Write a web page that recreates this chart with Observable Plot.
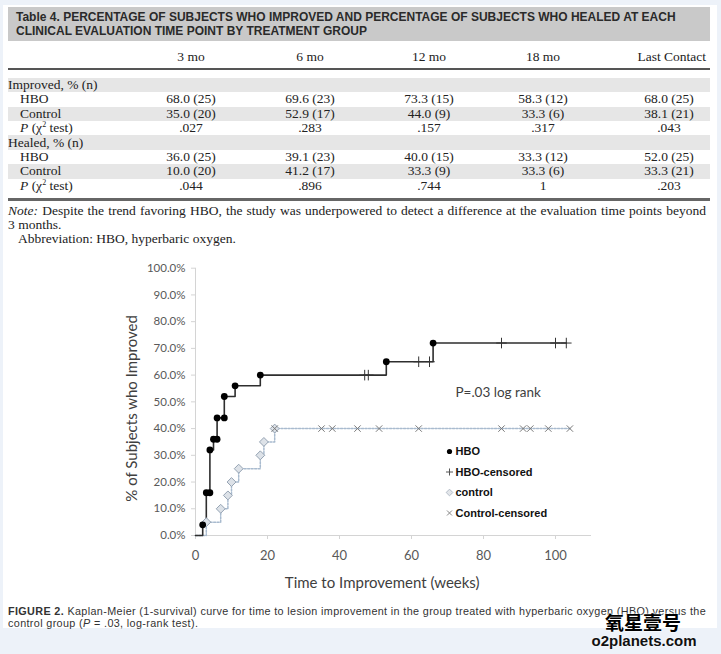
<!DOCTYPE html>
<html><head><meta charset="utf-8">
<script src="https://cdn.jsdelivr.net/npm/d3@7"></script>
<script src="https://cdn.jsdelivr.net/npm/@observablehq/plot@0.6"></script>
<style>
html,body{margin:0;padding:0;}
body{width:721px;height:654px;background:#edf2f9;position:relative;overflow:hidden;}
#page{position:absolute;left:3px;top:5px;width:714px;height:623px;background:#fff;}
.a{position:absolute;white-space:nowrap;line-height:1;}
.serif{font-family:"Liberation Serif","Times New Roman",serif;font-size:13.5px;color:#222;}
.banner{font-family:"Liberation Sans",Arial,sans-serif;font-weight:bold;font-size:12px;color:#2a2a2a;}
.cap{font-family:"Liberation Sans",Arial,sans-serif;font-size:10.8px;color:#333;}
#chart{position:absolute;left:0;top:250px;}
</style></head><body>
<div id="page"></div>
<div id="root"></div>
<div id="chart"></div>
<script>
// ---------- table data ----------
const tableTitle = ["Table 4. PERCENTAGE OF SUBJECTS WHO IMPROVED AND PERCENTAGE OF SUBJECTS WHO HEALED AT EACH",
                    "CLINICAL EVALUATION TIME POINT BY TREATMENT GROUP"];
const timePoints = ["3 mo", "6 mo", "12 mo", "18 mo", "Last Contact"];
const improvedHBO = ["68.0 (25)", "69.6 (23)", "73.3 (15)", "58.3 (12)", "68.0 (25)"];
const improvedControl = ["35.0 (20)", "52.9 (17)", "44.0 (9)", "33.3 (6)", "38.1 (21)"];
const improvedP = [".027", ".283", ".157", ".317", ".043"];
const healedHBO = ["36.0 (25)", "39.1 (23)", "40.0 (15)", "33.3 (12)", "52.0 (25)"];
const healedControl = ["10.0 (20)", "41.2 (17)", "33.3 (9)", "33.3 (6)", "33.3 (21)"];
const healedP = [".044", ".896", ".744", "1", ".203"];
const noteLine1 = "<i>Note:</i> Despite the trend favoring HBO, the study was underpowered to detect a difference at the evaluation time points beyond";
const noteLine2 = "3 months.";
const abbreviation = "Abbreviation: HBO, hyperbaric oxygen.";
const captionLine1 = "<b>FIGURE 2.</b> Kaplan-Meier (1-survival) curve for time to lesion improvement in the group treated with hyperbaric oxygen (HBO) versus the";
const captionLine2 = "control group (<i>P</i> = .03, log-rank test).";
const watermark = ["氧星壹号", "o2planets.com"];

// ---------- chart data ----------
const hboEventWeeks = [2, 3, 4, 4, 5, 6, 6, 8, 8, 11, 18, 53, 66];
const hboEventPct   = [4, 16, 16, 32, 36, 36, 44, 44, 52, 56, 60, 65, 72];
const hboCensoredWeeks = [47, 48, 62, 65, 85, 100, 103];
const hboCensoredPct   = [60, 60, 65, 65, 72, 72, 72];
const controlEventWeeks = [3, 7, 9, 10, 12, 18, 19, 22];
const controlEventPct   = [5, 10, 15, 20, 25, 30, 35, 40];
const controlCensoredWeeks = [22, 35, 38, 45, 51, 62, 85, 91, 93, 98, 104];
const controlCensoredPct   = [40, 40, 40, 40, 40, 40, 40, 40, 40, 40, 40];
const xTicks = [0, 20, 40, 60, 80, 100];
const yTicks = [0, 10, 20, 30, 40, 50, 60, 70, 80, 90, 100];
const xTitle = "Time to Improvement (weeks)";
const yTitle = "% of Subjects who Improved";
const annotation = "P=.03 log rank";
const legendLabels = ["HBO", "HBO-censored", "control", "Control-censored"];

// ---------- table rendering ----------
const root = document.getElementById("root");
function put(html, x, y, cls, align = "left", css = "") {
  const d = document.createElement("div");
  d.className = "a " + cls;
  d.innerHTML = html;
  const tx = align === "center" ? "-50%" : align === "right" ? "-100%" : "0";
  d.style.cssText = `left:${x}px;top:${y}px;transform:translate(${tx},-50%);` + css;
  root.appendChild(d);
  return d;
}
function fitWords(d, target) {
  const w = d.getBoundingClientRect().width;
  const spaces = (d.textContent.match(/ /g) || []).length;
  if (spaces) d.style.wordSpacing = ((target - w) / spaces) + "px";
}
function fitLetters(d, target) {
  const w = d.getBoundingClientRect().width;
  const n = d.textContent.length;
  d.style.letterSpacing = ((target - w) / n) + "px";
}
function box(x, y, w, h, color) {
  const d = document.createElement("div");
  d.style.cssText = `position:absolute;left:${x}px;top:${y}px;width:${w}px;height:${h}px;background:${color};`;
  root.appendChild(d);
}
box(8, 7, 702, 34, "#c9c9c9");
put(tableTitle[0], 16, 17, "banner");
put(tableTitle[1], 16, 31, "banner");

const colX = [191, 310, 429, 543, 669];
timePoints.forEach((t, i) => put(t, i === 4 ? 706 : colX[i], 57, "serif", i === 4 ? "right" : "center"));
box(8, 68, 702, 2, "#555");

const pLabel = "<i>P</i> (χ<sup style='font-size:8px;line-height:0'>2</sup> test)";
const rows = [
  {label: "Improved, % (n)", values: null},
  {label: "HBO", values: improvedHBO, indent: true},
  {label: "Control", values: improvedControl, indent: true},
  {label: pLabel, values: improvedP, indent: true},
  {label: "Healed, % (n)", values: null},
  {label: "HBO", values: healedHBO, indent: true},
  {label: "Control", values: healedControl, indent: true},
  {label: pLabel, values: healedP, indent: true}
];
const rowPitch = 14.4, row0 = 85;
rows.forEach((r, i) => {
  const cy = row0 + i * rowPitch;
  if (i % 2 === 0) box(8, cy - rowPitch / 2, 702, rowPitch, "#e6e6e6");
});
rows.forEach((r, i) => {
  const cy = row0 + i * rowPitch;
  put(r.label, r.indent ? 20 : 8, cy, "serif");
  if (r.values) r.values.forEach((v, j) => put(v, colX[j], cy, "serif", "center"));
});
box(8, 198, 702, 2.5, "#666");

fitWords(put(noteLine1, 8, 211, "serif"), 698);
put(noteLine2, 8, 225, "serif");
put(abbreviation, 18, 239, "serif");

const cap1 = put(captionLine1, 8, 611, "cap");
fitLetters(cap1, 698);
const cap2 = put(captionLine2, 8, 623, "cap");
cap2.style.letterSpacing = cap1.style.letterSpacing;
put(watermark[0], 643, 621, "", "center", "font-family:'Noto Sans CJK SC';font-weight:bold;font-size:19px;color:#000;text-shadow:0 0 2px #fff,0 0 2px #fff;");
put(watermark[1], 644, 640, "", "center", "font-family:'Liberation Sans';font-weight:bold;font-size:15px;color:#111;text-shadow:0 0 2px #fff;");

// ---------- chart ----------
const hboEvents = hboEventWeeks.map((w, i) => ({week: w, pct: hboEventPct[i]}));
const hboCens = hboCensoredWeeks.map((w, i) => ({week: w, pct: hboCensoredPct[i]}));
const ctlEvents = controlEventWeeks.map((w, i) => ({week: w, pct: controlEventPct[i]}));
const ctlCens = controlCensoredWeeks.map((w, i) => ({week: w, pct: controlCensoredPct[i]}));
const byTime = (a, b) => a.week - b.week || a.pct - b.pct;
const hboLine = [{week: 0, pct: 0}, ...hboEvents, ...hboCens].sort(byTime);
const ctlLine = [{week: 0, pct: 0}, ...ctlEvents, ...ctlCens].sort(byTime);

const mTop = 17.7, mLeft = 195;
const legendStyles = [
  {symbol: "circle", fill: "#000", stroke: "none", r: 2.6},
  {symbol: "plus", fill: "none", stroke: "#555", r: 2.4},
  {symbol: "diamond2", fill: "#e3e6ea", stroke: "#b3bcc7", r: 3},
  {symbol: "times", fill: "none", stroke: "#888", r: 2.4}
];
const legendMarks = legendLabels.flatMap((label, i) => {
  const dy = 201 + i * 20.5 - mTop;
  const s = legendStyles[i];
  return [
    Plot.dot([label], {frameAnchor: "top-left", dx: 449 - mLeft, dy, symbol: s.symbol, r: s.r, fill: s.fill, stroke: s.stroke, strokeWidth: 1}),
    Plot.text([label], {frameAnchor: "top-left", dx: 455 - mLeft, dy, text: d => d, textAnchor: "start", lineAnchor: "middle",
      fontSize: 11, fontWeight: "bold", fill: "#111", fontFamily: "Liberation Sans, Arial, sans-serif"})
  ];
});

const chart = Plot.plot({
  width: 721, height: 350,
  marginLeft: mLeft, marginRight: 130, marginTop: mTop, marginBottom: 65,
  style: {fontFamily: "Lato, sans-serif", background: "transparent", overflow: "visible"},
  x: {domain: [0, 110]},
  y: {domain: [0, 100]},
  marks: [
    Plot.ruleY([0], {stroke: "#d4d4d4"}),
    Plot.ruleX([0], {stroke: "#d4d4d4"}),
    Plot.axisY({ticks: yTicks, tickFormat: d => d.toFixed(1) + "%", tickSize: 4, tickPadding: 6,
      stroke: "#d4d4d4", fill: "#595959", fontSize: 11.5, label: null}),
    Plot.axisX({ticks: xTicks, tickSize: 4, tickPadding: 11.5, stroke: "#d4d4d4", fill: "#595959",
      fontSize: 13, label: null}),
    Plot.line(ctlLine, {x: "week", y: "pct", curve: "step-after", stroke: "#a9bbcf", strokeWidth: 1.5, strokeDasharray: "2,1.5"}),
    Plot.line(hboLine, {x: "week", y: "pct", curve: "step-after", stroke: "#2e2e2e", strokeWidth: 1.6}),
    Plot.dot(ctlEvents, {x: "week", y: "pct", symbol: "diamond2", r: 4, fill: "#dde2e8", stroke: "#95a3b3", strokeWidth: 1}),
    Plot.dot(ctlCens, {x: "week", y: "pct", symbol: "times", r: 3, stroke: "#7a7a7a", strokeWidth: 1}),
    Plot.dot(hboCens, {x: "week", y: "pct", symbol: "plus", r: 3.5, stroke: "#333", strokeWidth: 1}),
    Plot.dot(hboEvents, {x: "week", y: "pct", r: 3.4, fill: "#000"}),
    Plot.text([annotation], {frameAnchor: "top-left", dx: 455 - mLeft, dy: 142 - mTop, text: d => d,
      textAnchor: "start", lineAnchor: "middle", fontSize: 13.5, fill: "#404040"}),
    Plot.text([yTitle], {frameAnchor: "left", rotate: -90, dx: -63.3, dy: 6.6, text: d => d,
      textAnchor: "middle", lineAnchor: "middle", fontSize: 15, fill: "#404040"}),
    Plot.text([xTitle], {frameAnchor: "bottom", dx: -11.3, dy: 48, text: d => d,
      textAnchor: "middle", lineAnchor: "middle", fontSize: 15, fill: "#404040"}),
    ...legendMarks
  ]
});
document.getElementById("chart").appendChild(chart);
</script></body></html>
